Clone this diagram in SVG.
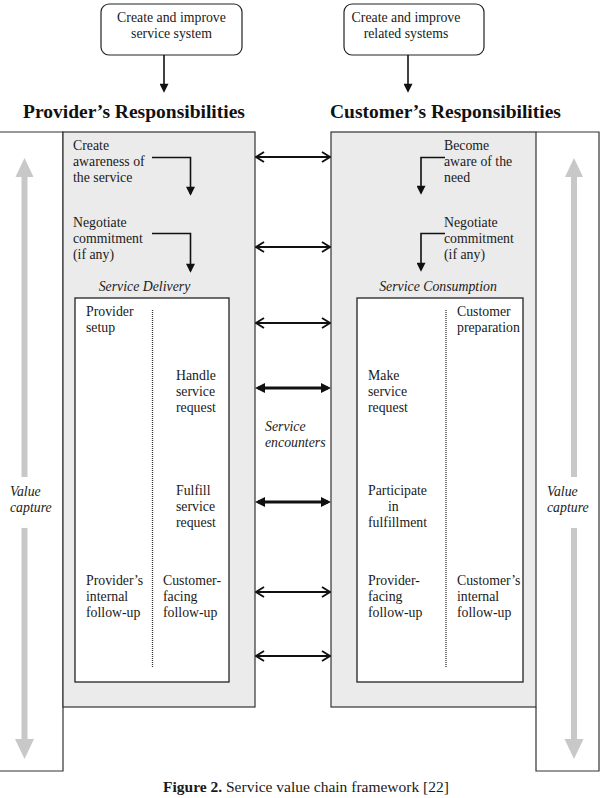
<svg xmlns="http://www.w3.org/2000/svg" width="601" height="798" viewBox="0 0 601 798">
<style>
text{font-family:"Liberation Serif","Times New Roman",serif;font-size:13.8px;fill:#1a1a1a}
.it{font-style:italic}
.hd{font-size:19.5px;font-weight:bold;fill:#111}
.box{fill:#fff;stroke:#222;stroke-width:1.2}
.gray{fill:#ebebeb;stroke:#333;stroke-width:1.2}
.outer{fill:none;stroke:#333;stroke-width:1.2}
.inner{fill:#fff;stroke:#222;stroke-width:1.3}
.dot{stroke:#333;stroke-width:1.3;stroke-dasharray:1 1}
.ga{fill:#c8c8c8}
.ln{fill:none;stroke:#111;stroke-width:1.6}
.thin{fill:none;stroke:#111;stroke-width:1.8;marker-start:url(#chev);marker-end:url(#chev)}
.thick{fill:none;stroke:#111;stroke-width:3.2;marker-start:url(#tri);marker-end:url(#tri)}
</style>
<defs>
<marker id="head" viewBox="0 0 10 10" refX="8" refY="5" markerUnits="userSpaceOnUse" markerWidth="10" markerHeight="9" orient="auto"><path d="M0,0 L10,5 L0,10 z" fill="#111"/></marker>
<marker id="chev" viewBox="0 0 10 12" refX="9" refY="6" markerUnits="userSpaceOnUse" markerWidth="10" markerHeight="12" orient="auto-start-reverse"><path d="M1,1 L9,6 L1,11" fill="none" stroke="#111" stroke-width="1.9"/></marker>
<marker id="tri" viewBox="0 0 10 10" refX="7" refY="5" markerUnits="userSpaceOnUse" markerWidth="10" markerHeight="11" orient="auto-start-reverse"><path d="M0,0 L10,5 L0,10 z" fill="#111"/></marker>
</defs>

<g id="left-value-frame">
<path class="outer" d="M0,132 H63 V771 H0"/>
<polygon class="ga" points="24.5,158 33.5,177 27.5,177 27.5,477 21.5,477 21.5,177 15.5,177"/>
<polygon class="ga" points="21.5,528 27.5,528 27.5,739 34,739 24.5,759 15,739 21.5,739"/>
<text class="it" x="10" y="496">Value</text>
<text class="it" x="10" y="512">capture</text>
</g>

<g id="right-value-frame">
<path class="outer" d="M536,132 H599 V771 H536 V707"/>
<polygon class="ga" points="574,158 583,177 577,177 577,477 571,477 571,177 565,177"/>
<polygon class="ga" points="571,528 577,528 577,739 583.5,739 574,759 564.5,739 571,739"/>
<text class="it" x="547" y="496">Value</text>
<text class="it" x="547" y="512">capture</text>
</g>

<g id="provider-system">
<rect class="box" x="101" y="4" width="141" height="51" rx="8"/>
<text x="171.5" y="22" text-anchor="middle">Create and improve</text>
<text x="171.5" y="38" text-anchor="middle">service system</text>
</g>

<g id="customer-system">
<rect class="box" x="344" y="4" width="140" height="51" rx="8"/>
<text x="406" y="22" text-anchor="middle">Create and improve</text>
<text x="406" y="38" text-anchor="middle">related systems</text>
</g>

<text class="hd" x="23" y="118">Provider’s Responsibilities</text>
<text class="hd" x="330" y="118">Customer’s Responsibilities</text>

<g id="provider-responsibilities">
<rect class="gray" x="63" y="132" width="192" height="575"/>
<text x="73" y="150">Create</text>
<text x="73" y="166">awareness of</text>
<text x="73" y="182">the service</text>
<text x="73" y="227">Negotiate</text>
<text x="73" y="243">commitment</text>
<text x="73" y="259">(if any)</text>
<text class="it" x="144.5" y="291" text-anchor="middle">Service Delivery</text>
</g>

<g id="service-delivery">
<rect class="inner" x="75" y="298" width="154" height="384"/>
<line class="dot" x1="152.5" y1="310" x2="152.5" y2="667"/>
<text x="86" y="316">Provider</text>
<text x="86" y="332">setup</text>
<text x="176" y="380">Handle</text>
<text x="176" y="396">service</text>
<text x="176" y="412">request</text>
<text x="176" y="495">Fulfill</text>
<text x="176" y="511">service</text>
<text x="176" y="527">request</text>
<text x="86" y="585">Provider’s</text>
<text x="86" y="601">internal</text>
<text x="86" y="617">follow-up</text>
<text x="163" y="585">Customer-</text>
<text x="163" y="601">facing</text>
<text x="163" y="617">follow-up</text>
</g>

<g id="customer-responsibilities">
<rect class="gray" x="331" y="132" width="205" height="575"/>
<text x="444" y="150">Become</text>
<text x="444" y="166">aware of the</text>
<text x="444" y="182">need</text>
<text x="444" y="227">Negotiate</text>
<text x="444" y="243">commitment</text>
<text x="444" y="259">(if any)</text>
<text class="it" x="438" y="291" text-anchor="middle">Service Consumption</text>
</g>

<g id="service-consumption">
<rect class="inner" x="357" y="298" width="166" height="384"/>
<line class="dot" x1="446" y1="310" x2="446" y2="667"/>
<text x="457" y="316">Customer</text>
<text x="457" y="332">preparation</text>
<text x="368" y="380">Make</text>
<text x="368" y="396">service</text>
<text x="368" y="412">request</text>
<text x="368" y="495">Participate</text>
<text x="388" y="511">in</text>
<text x="368" y="527">fulfillment</text>
<text x="368" y="585">Provider-</text>
<text x="368" y="601">facing</text>
<text x="368" y="617">follow-up</text>
<text x="457" y="585">Customer’s</text>
<text x="457" y="601">internal</text>
<text x="457" y="617">follow-up</text>
</g>

<g id="service-encounters-label">
<text class="it" x="265" y="431">Service</text>
<text class="it" x="265" y="447">encounters</text>
</g>

<g id="connectors">
<line class="ln" x1="164" y1="55" x2="164" y2="91" marker-end="url(#head)"/>
<line class="ln" x1="408" y1="55" x2="408" y2="91" marker-end="url(#head)"/>
<polyline class="ln" points="152,157.5 190.5,157.5 190.5,194" marker-end="url(#head)"/>
<polyline class="ln" points="152,233.5 190.5,233.5 190.5,271" marker-end="url(#head)"/>
<polyline class="ln" points="445,157.5 421,157.5 421,193" marker-end="url(#head)"/>
<polyline class="ln" points="445,233.5 421,233.5 421,270" marker-end="url(#head)"/>
<line class="thin" x1="256" y1="157" x2="330" y2="157"/>
<line class="thin" x1="256" y1="247" x2="330" y2="247"/>
<line class="thin" x1="256" y1="323" x2="330" y2="323"/>
<line class="thick" x1="258" y1="388" x2="328" y2="388"/>
<line class="thick" x1="258" y1="502" x2="328" y2="502"/>
<line class="thin" x1="256" y1="592" x2="330" y2="592"/>
<line class="thin" x1="256" y1="656" x2="330" y2="656"/>
</g>

<text x="163" y="792" style="font-size:15.5px"><tspan font-weight="bold">Figure 2.</tspan> Service value chain framework [22]</text>
</svg>
